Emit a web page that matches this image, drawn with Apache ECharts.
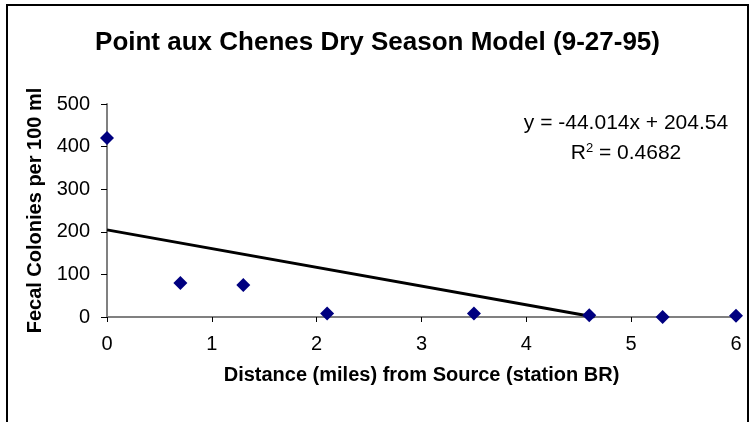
<!DOCTYPE html>
<html>
<head>
<meta charset="utf-8">
<script src="https://cdn.jsdelivr.net/npm/echarts@6/dist/echarts.min.js"></script>
<style>
    html, body { margin: 0; padding: 0; background: #fff; }
    #chart { width: 755px; height: 422px; }
</style>
</head>
<body>
<div id="chart"></div>
<script>
//测站距离(英里)与粪大肠菌数
var distance = [0, 0.7, 1.3, 2.1, 3.5, 4.6, 5.3, 6];
var colonies = [420, 80, 75, 8, 8, 4, 0, 3];
//趋势线两端点 (y = -44.014x + 204.54, 截到 y=0)
var trendX = [0, 4.65];
var trendY = [204.54, 0];
var xTicks = [0, 1, 2, 3, 4, 5, 6];
var yTicks = [0, 100, 200, 300, 400, 500];

var font = 'Liberation Sans, Arial, sans-serif';

var points = [];
for (var i = 0; i < distance.length; i++) {
    points.push([distance[i], colonies[i]]);
}
var trend = [];
for (var j = 0; j < trendX.length; j++) {
    trend.push([trendX[j], trendY[j]]);
}

var chart = echarts.init(document.getElementById('chart'));
var option = {
    animation: false,
    backgroundColor: '#fff',
    title: {
        text: 'Point aux Chenes Dry Season Model (9-27-95)',
        left: 'center',
        top: 25,
        textStyle: { fontFamily: font, fontSize: 26, fontWeight: 'bold', color: '#000' }
    },
    graphic: [
        //外框
        { type: 'line', shape: { x1: 7, y1: 5, x2: 7, y2: 422 }, style: { stroke: '#000', lineWidth: 2 } },
        { type: 'line', shape: { x1: 6, y1: 5, x2: 749, y2: 5 }, style: { stroke: '#000', lineWidth: 2 } },
        { type: 'line', shape: { x1: 748, y1: 5, x2: 748, y2: 422 }, style: { stroke: '#000', lineWidth: 2 } },
        //回归方程
        {
            type: 'text', x: 626, y: 123,
            style: { text: 'y = -44.014x + 204.54', font: '21px ' + font, fill: '#000', textAlign: 'center', textVerticalAlign: 'middle' }
        },
        {
            type: 'text', x: 626, y: 153,
            style: {
                text: 'R{sup|2} = 0.4682',
                font: '21px ' + font, fill: '#000', textAlign: 'center', textVerticalAlign: 'middle',
                rich: {
                    sup: { fontSize: 13, fontFamily: font, verticalAlign: 'top', padding: [0, 0, 10, 0] }
                }
            }
        }
    ],
    grid: { left: 107, right: 19, top: 104, bottom: 105 },
    xAxis: {
        type: 'value',
        min: xTicks[0],
        max: xTicks[xTicks.length - 1],
        interval: 1,
        name: 'Distance (miles) from Source (station BR)',
        nameLocation: 'middle',
        nameGap: 48,
        nameTextStyle: { fontFamily: font, fontSize: 20, fontWeight: 'bold', color: '#000' },
        axisLine: { onZero: false, lineStyle: { color: '#808080', width: 2 } },
        axisTick: { length: 5, lineStyle: { color: '#000', width: 1 } },
        axisLabel: { margin: 17, fontFamily: font, fontSize: 20, color: '#000' },
        splitLine: { show: false }
    },
    yAxis: {
        type: 'value',
        min: yTicks[0],
        max: yTicks[yTicks.length - 1],
        interval: 100,
        name: 'Fecal Colonies per 100 ml',
        nameLocation: 'middle',
        nameGap: 59,
        nameTextStyle: { fontFamily: font, fontSize: 20, fontWeight: 'bold', color: '#000' },
        axisLine: { show: true, lineStyle: { color: '#808080', width: 2 } },
        axisTick: { show: true, length: 6, lineStyle: { color: '#000', width: 1 } },
        axisLabel: { margin: 17, fontFamily: font, fontSize: 20, color: '#000' },
        splitLine: { show: false }
    },
    series: [
        {
            name: 'trend',
            type: 'line',
            data: trend,
            symbol: 'none',
            lineStyle: { color: '#000', width: 3 },
            z: 2
        },
        {
            name: 'colonies',
            type: 'scatter',
            data: points,
            symbol: 'diamond',
            symbolSize: 14,
            itemStyle: { color: '#000080', opacity: 1 },
            z: 3
        }
    ]
};
chart.setOption(option);
</script>
</body>
</html>
